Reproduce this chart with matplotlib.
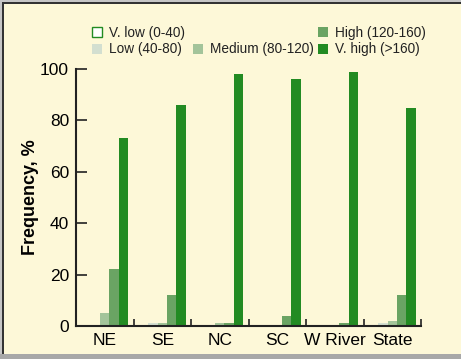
import matplotlib
matplotlib.use("Agg")
import matplotlib.pyplot as plt
from matplotlib.patches import Rectangle
import numpy as np

# Data.
regions = ["NE", "SE", "NC", "SC", "W River", "State"]
classes = ["V. low (0-40)", "Low (40-80)", "Medium (80-120)",
           "High (120-160)", "V. high (>160)"]
v_low = [0, 0, 0, 0, 0, 0]
low = [0, 1, 0, 0, 0, 1]
medium = [5, 1, 1, 0, 0, 2]
high = [22, 12, 1, 4, 1, 12]
v_high = [73, 86, 98, 96, 99, 85]
yticks = [0, 20, 40, 60, 80, 100]

series = [v_low, low, medium, high, v_high]
fills = ["white", "#d3dfd0", "#a3c49a", "#6aa463", "#228b22"]
edges = ["#228b22", "#d3dfd0", "#a3c49a", "#6aa463", "#228b22"]

plt.rcParams["font.family"] = ["Liberation Sans", "DejaVu Sans"]

W, H = 461, 359
fig = plt.figure(figsize=(W / 100, H / 100), dpi=100)
fig.patch.set_facecolor("#fdf8d8")


def px(x, y, w, h):
    """ Convert pixel box (top-left origin) to figure fraction. """
    return (x / W, 1 - (y + h) / H, w / W, h / H)


def rect(x, y, w, h, **kw):
    l, b, ww, hh = px(x, y, w, h)
    fig.patches.append(Rectangle((l, b), ww, hh, transform=fig.transFigure,
                                 **kw))


# Grey frame round the panel, dark rim on left/top.
rect(0, 0, W, 2, facecolor="#c6c6c6", edgecolor="none")
rect(0, 0, 2, H, facecolor="#c6c6c6", edgecolor="none")
rect(0, 354, W, 5, facecolor="#a8a8a8", edgecolor="none")
rect(2, 2, 1.5, 352, facecolor="#333333", edgecolor="none")
rect(2, 2, W, 1.5, facecolor="#333333", edgecolor="none")

ax = fig.add_axes(px(76, 69, 345, 257))
ax.set_facecolor("none")

x = np.arange(len(regions)) + 0.5
bw = 0.162
for k, vals in enumerate(series):
    ax.bar(x + (k - 2) * bw, vals, width=bw, color=fills[k],
           edgecolor=edges[k], linewidth=1 if k == 0 else 0, zorder=2)

ax.set_xlim(0, 6)
ax.set_ylim(0, 100)
ax.set_yticks(yticks)
ax.set_xticks(np.arange(1, 7))
ax.set_xticklabels([])
ax.set_xticks(x, minor=True)
ax.set_xticklabels(regions, minor=True, fontsize=12.5)
ax.tick_params(axis="x", which="minor", length=0, pad=5)
ax.tick_params(axis="x", which="major", direction="in", length=5,
               width=1.2, color="#222222")
ax.tick_params(axis="y", direction="in", length=8, width=1.2,
               labelsize=12.5, pad=5, color="#222222")
for s in ["top", "right"]:
    ax.spines[s].set_visible(False)
for s in ["left", "bottom"]:
    ax.spines[s].set_linewidth(1.5)
    ax.spines[s].set_color("#222222")
ax.set_ylabel("Frequency, %", fontsize=13, fontweight="bold")
ax.yaxis.set_label_coords(-0.107, 0.5)

# Legend drawn by hand: two rows, three columns.
slots = [(92, 27), (92, 44), (193, 44), (318, 27), (318, 44)]
for k, (lx, ly) in enumerate(slots):
    rect(lx, ly, 10, 10, facecolor=fills[k], edgecolor=edges[k],
         lw=1 if k == 0 else 0)
    fig.text((lx + 17) / W, 1 - (ly + 5.5) / H, classes[k], fontsize=9.8,
             va="center", ha="left", color="#222222")

fig.savefig("out.png", dpi=100, facecolor=fig.get_facecolor())
